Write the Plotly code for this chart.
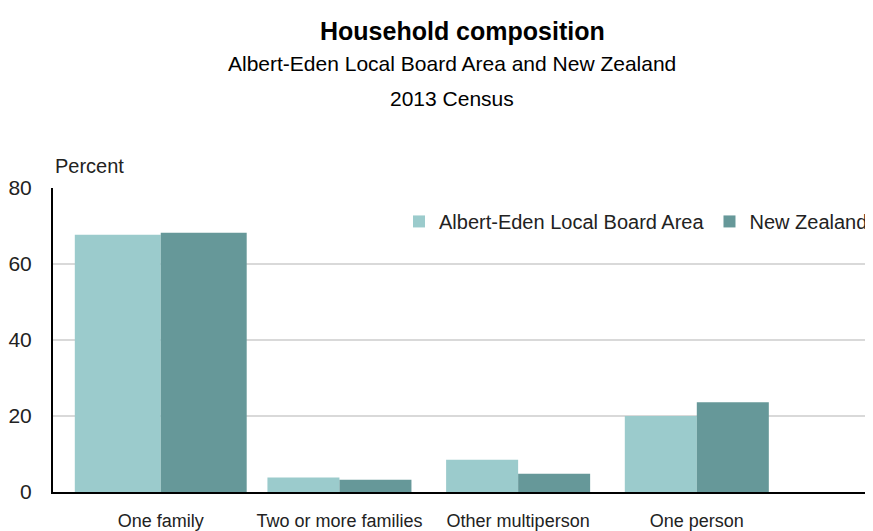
import plotly.graph_objects as go

categories = ["One family", "Two or more families", "Other multiperson", "One person"]
albert_eden = [67.7, 3.8, 8.5, 20.0]
new_zealand = [68.2, 3.2, 4.8, 23.6]
series_names = ["Albert-Eden Local Board Area", "New Zealand"]
y_ticks = [0, 20, 40, 60, 80]

# bar widths (category units) – first group drawn a little wider, as in the source
bar_w = [0.481, 0.403, 0.403, 0.403]

FONT = "Arial, Liberation Sans, sans-serif"
TXT = "#222222"

fig = go.Figure()
fig.add_trace(go.Bar(x=categories, y=albert_eden, name=series_names[0],
                     width=bar_w, offset=[-w for w in bar_w],
                     marker=dict(color="#9BCBCC", line=dict(width=0))))
fig.add_trace(go.Bar(x=categories, y=new_zealand, name=series_names[1],
                     width=bar_w, offset=[0 for w in bar_w],
                     marker=dict(color="#669899", line=dict(width=0))))

# page body has an 8px margin, so the figure is 8px smaller than the window
fig.update_layout(
    width=865, height=523,
    margin=dict(l=45, r=0, t=180, b=37),
    paper_bgcolor="white", plot_bgcolor="white",
    font=dict(family=FONT, size=18, color=TXT),
    barmode="group",
    showlegend=True,
    legend=dict(orientation="h", x=1.0, xanchor="right", y=0.890, yanchor="middle",
                font=dict(size=20, color=TXT), bgcolor="rgba(0,0,0,0)",
                itemwidth=30, traceorder="normal"),
    xaxis=dict(type="category", range=[-0.603, 3.986], showgrid=False,
               showline=True, linecolor="black", linewidth=2,
               ticks="", ticklabelstandoff=11, tickfont=dict(size=18, color=TXT)),
    yaxis=dict(range=[0, 80], tickvals=y_ticks, showgrid=True, gridcolor="#d9d9d9",
               gridwidth=2, showline=True, linecolor="black", linewidth=2,
               zeroline=False, ticks="", ticklabelstandoff=15,
               tickfont=dict(size=21, color=TXT)),
    annotations=[
        dict(text="<b>Household composition</b>", x=0.499, xref="paper", y=1.516, yref="paper",
             showarrow=False, font=dict(size=25, color="black"), xanchor="center", yanchor="middle"),
        dict(text="Albert-Eden Local Board Area and New Zealand", x=0.487, xref="paper", y=1.408,
             yref="paper", showarrow=False, font=dict(size=21, color="black"),
             xanchor="center", yanchor="middle"),
        dict(text="2013 Census", x=0.487, xref="paper", y=1.294, yref="paper",
             showarrow=False, font=dict(size=21, color="black"), xanchor="center", yanchor="middle"),
        dict(text="Percent", x=0, xref="paper", y=1.072, yref="paper", showarrow=False,
             font=dict(size=20, color=TXT), xanchor="left", yanchor="middle"),
    ],
)

fig.write_html("out.html")
